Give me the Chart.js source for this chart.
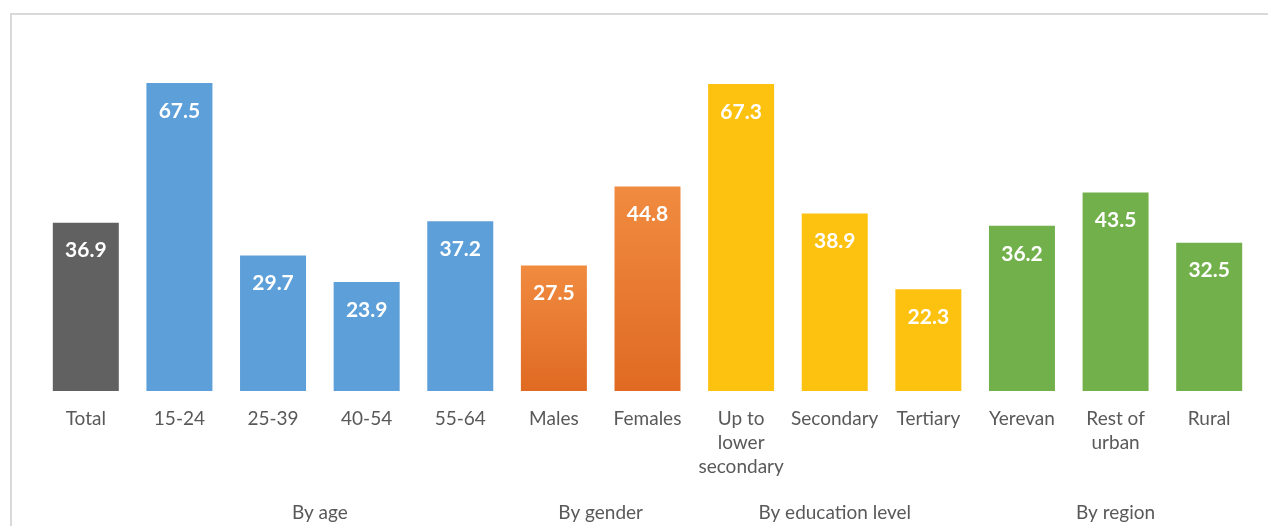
<!DOCTYPE html>
<html>
<head>
<meta charset="utf-8">
<script src="https://cdn.jsdelivr.net/npm/chart.js@4"></script>
<style>
  body { margin: 0; background: #fff; overflow: hidden; }
  #frame { position: absolute; left: 10px; top: 13px; width: 1300px; height: 600px; border: 2px solid #d9d9d9; }
  #wrap { position: absolute; left: 0; top: 0; width: 1268px; height: 526px; }
</style>
</head>
<body>
<div id="frame"></div>
<div id="wrap"><canvas id="chart"></canvas></div>
<script>
var categories = ["Total", "15-24", "25-39", "40-54", "55-64", "Males", "Females",
                  ["Up to", "lower", "secondary"], "Secondary", "Tertiary", "Yerevan", ["Rest of", "urban"], "Rural"];
var values = [36.9, 67.5, 29.7, 23.9, 37.2, 27.5, 44.8, 67.3, 38.9, 22.3, 36.2, 43.5, 32.5];
var groupNames = ["By age", "By gender", "By education level", "By region"];
var groupStart = [1, 5, 7, 10];
var groupEnd = [4, 6, 9, 12];
var barGroup = [-1, 0, 0, 0, 0, 1, 1, 2, 2, 2, 3, 3, 3];

var groupColors = ["#5d9fd8", "orange", "#fdc20f", "#72b04b"];
var totalColor = "#616161";

function barColor(context) {
    var g = barGroup[context.dataIndex];
    if (g < 0) return totalColor;
    if (groupColors[g] !== "orange") return groupColors[g];
    var chart = context.chart;
    var y = chart.scales.y;
    if (!chart.chartArea || !y) return "#ea7a30";
    var top = y.getPixelForValue(values[context.dataIndex]);
    var base = y.getPixelForValue(0);
    if (!isFinite(top) || !isFinite(base)) return "#ea7a30";
    var grad = chart.ctx.createLinearGradient(0, top, 0, base);
    grad.addColorStop(0, "#f08b40");
    grad.addColorStop(1, "#e06a22");
    return grad;
}

var labelFont = "Lato, 'Open Sans', sans-serif";

var valueLabels = {
    id: "valueLabels",
    afterDatasetsDraw: function(chart) {
        var ctx = chart.ctx;
        var meta = chart.getDatasetMeta(0);
        ctx.save();
        ctx.fillStyle = "#ffffff";
        ctx.font = "bold 21px " + labelFont;
        ctx.textAlign = "center";
        ctx.textBaseline = "middle";
        meta.data.forEach(function(bar, i) {
            ctx.fillText(values[i].toFixed(1), bar.x, bar.y + 28);
        });
        ctx.restore();
    }
};

var groupLabels = {
    id: "groupLabels",
    afterDraw: function(chart) {
        var ctx = chart.ctx;
        var x = chart.scales.x;
        ctx.save();
        ctx.fillStyle = "#595959";
        ctx.font = "19px " + labelFont;
        ctx.textAlign = "center";
        ctx.textBaseline = "middle";
        for (var i = 0; i < groupNames.length; i++) {
            var cx = (x.getPixelForValue(groupStart[i]) + x.getPixelForValue(groupEnd[i])) / 2;
            ctx.fillText(groupNames[i], cx, 513);
        }
        ctx.restore();
    }
};

new Chart(document.getElementById("chart"), {
    type: "bar",
    data: {
        labels: categories,
        datasets: [{
            data: values,
            backgroundColor: barColor,
            borderWidth: 0,
            barPercentage: 0.705,
            categoryPercentage: 1.0
        }]
    },
    options: {
        responsive: true,
        maintainAspectRatio: false,
        animation: false,
        layout: { padding: { left: 39, right: 12, top: 26, bottom: 0 } },
        plugins: { legend: { display: false }, tooltip: { enabled: false } },
        scales: {
            x: {
                grid: { display: false },
                border: { display: false },
                afterFit: function(scale) { scale.height = 135; },
                ticks: {
                    color: "#595959",
                    font: { family: labelFont, size: 19, lineHeight: 1.26 },
                    autoSkip: false,
                    maxRotation: 0,
                    padding: 8
                }
            },
            y: {
                display: false,
                min: 0,
                max: 80
            }
        }
    },
    plugins: [valueLabels, groupLabels]
});
</script>
</body>
</html>
